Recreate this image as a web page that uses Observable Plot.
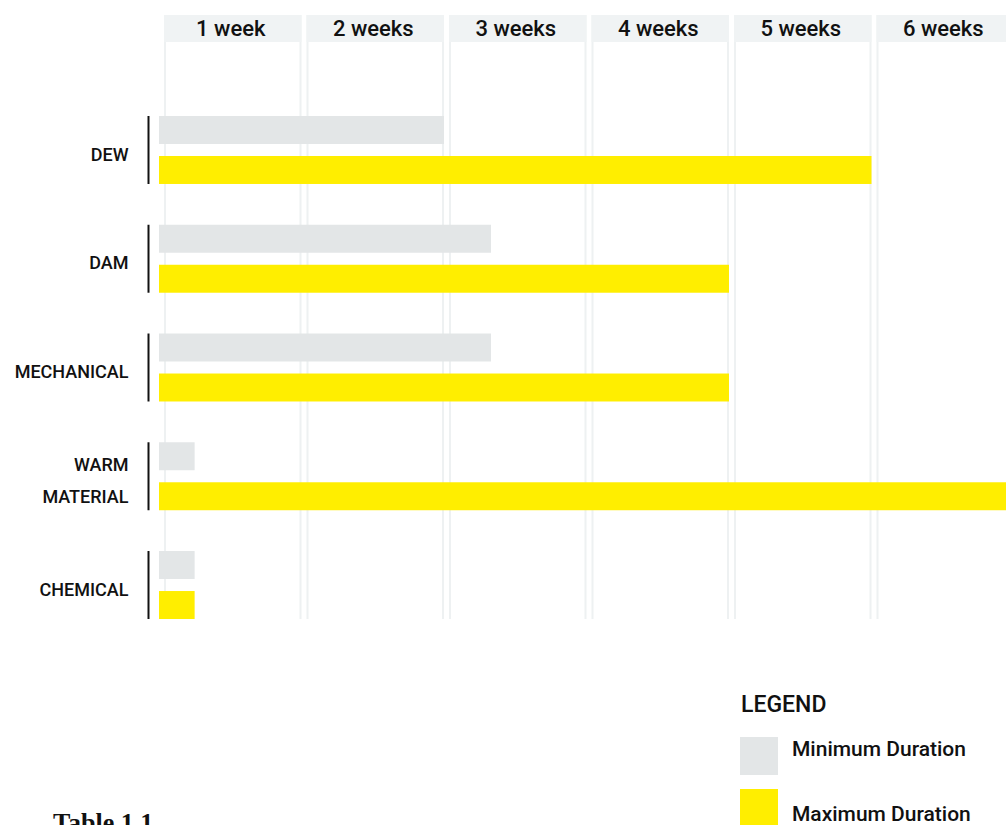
<!DOCTYPE html>
<html>
<head>
<meta charset="utf-8">
<script src="https://cdn.jsdelivr.net/npm/d3@7"></script>
<script src="https://cdn.jsdelivr.net/npm/@observablehq/plot@0.6"></script>
<style>
  html, body { margin: 0; padding: 0; background: #fff; overflow: hidden; }
  #page { position: relative; width: 1006px; height: 825px; overflow: hidden; font-family: Roboto, "Noto Sans", sans-serif; color: #111; }
  #chart { position: absolute; left: 0; top: 0; width: 1014px; }
  #chart svg { max-width: none !important; }
  .abs { position: absolute; white-space: nowrap; line-height: 1; }
  #legend-title { left: 741px; top: 693px; font-size: 23px; font-weight: 500; }
  .sw { position: absolute; left: 740px; width: 38px; height: 38px; }
  .lg { left: 792px; font-size: 21px; font-weight: 500; }
  #caption { left: 53px; top: 810px; font-family: "Liberation Serif", "DejaVu Serif", serif; font-weight: bold; font-size: 26px; }
</style>
</head>
<body>
<div id="page">
  <div id="chart"></div>
</div>
<script>
const categories = ["DEW", "DAM", "MECHANICAL", "WARM MATERIAL", "CHEMICAL"];
const categoryLabels = ["DEW", "DAM", "MECHANICAL", "WARM\nMATERIAL", "CHEMICAL"];
const minWeeks = [2, 2.33, 2.33, 0.25, 0.25];
const maxWeeks = [5, 4, 4, 6, 0.25];
const weekTicks = [1, 2, 3, 4, 5, 6];
const weekLabels = ["1 week", "2 weeks", "3 weeks", "4 weeks", "5 weeks", "6 weeks"];
const seriesNames = ["Minimum Duration", "Maximum Duration"];
const seriesColors = ["#e3e6e7", "#ffee00"];
const legendTitle = "LEGEND";
const captionText = "Table 1.1";

const rows = categories.map((c, i) => ({category: c, min: minWeeks[i], max: maxWeeks[i]}));
const gridColor = "#eef1f2";

const chart = Plot.plot({
  width: 1014,
  height: 619,
  marginTop: 15,
  marginBottom: 0,
  marginLeft: 159,
  marginRight: 0,
  style: {fontFamily: "Roboto, 'Noto Sans', sans-serif", color: "#111", background: "transparent", maxWidth: "none"},
  x: {domain: [0, 6], axis: null},
  y: {domain: categories, range: [116, 619], paddingInner: 0.375, paddingOuter: 0, round: false, axis: null},
  marks: [
    Plot.ruleX(weekTicks, {x: d => d, dx: -1.5, stroke: gridColor, strokeWidth: 2}),
    Plot.ruleX([0, ...weekTicks.slice(0, -1)], {x: d => d, dx: 5.5, stroke: gridColor, strokeWidth: 2}),
    Plot.rect(weekTicks, {x1: d => d - 1, x2: d => d, insetLeft: 5, insetBottom: 577, fill: "#f0f3f4"}),
    Plot.text(weekTicks, {x: d => d - 0.5, frameAnchor: "top", lineAnchor: "middle", dy: 13.5, text: (d, i) => weekLabels[i], fontSize: 22, fontWeight: 500, fill: "#111"}),
    Plot.barX(rows, {x: "min", y: "category", insetBottom: 40, fill: seriesColors[0]}),
    Plot.barX(rows, {x: "max", y: "category", insetTop: 40, fill: seriesColors[1]}),
    Plot.tickX(categories, {x: 0, y: d => d, dx: -11, stroke: "#111", strokeWidth: 2}),
    Plot.text(categories, {x: 0, y: d => d, dx: -31, textAnchor: "end", text: (d, i) => categoryLabels[i], lineHeight: 1.75, fontSize: 18, fontWeight: 500, fill: "#111"})
  ]
});
chart.style.maxWidth = "none";
document.getElementById("chart").appendChild(chart);

const page = document.getElementById("page");
function addDiv(cls, id, text, styles) {
  const el = document.createElement("div");
  el.className = cls;
  if (id) el.id = id;
  if (text) el.textContent = text;
  Object.assign(el.style, styles || {});
  page.appendChild(el);
  return el;
}
addDiv("abs", "legend-title", legendTitle);
const swatchTops = [737, 789];
const labelTops = [739, 804];
seriesNames.forEach((name, i) => {
  addDiv("sw", null, null, {top: swatchTops[i] + "px", background: seriesColors[i]});
  addDiv("abs lg", null, name, {top: labelTops[i] + "px"});
});
addDiv("abs", "caption", captionText);
</script>
</body>
</html>
